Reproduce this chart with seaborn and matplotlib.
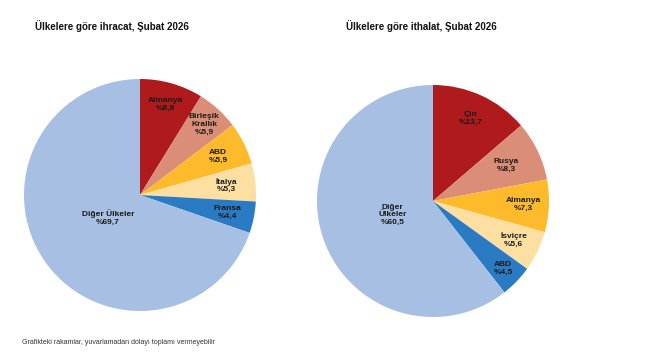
import numpy as np
import matplotlib
matplotlib.use("Agg")
import matplotlib.pyplot as plt
import seaborn as sns

# İhracat verileri
ihracat_ulkeler = ["Almanya", "Birleşik\nKrallık", "ABD", "İtalya", "Fransa", "Diğer Ülkeler"]
ihracat_pay = [8.8, 5.9, 5.9, 5.3, 4.4, 69.7]

# İthalat verileri
ithalat_ulkeler = ["Çin", "Rusya", "Almanya", "İsviçre", "ABD", "Diğer\nÜlkeler"]
ithalat_pay = [13.7, 8.3, 7.3, 5.6, 4.5, 60.5]

renkler = ["#AF1B1D", "#DA8E78", "#FDBB2C", "#FDDFA2", "#2A7BC4", "#A7BFE2"]

# Etiketlerin merkeze uzaklığı (yarıçap oranı)
ihracat_uzaklik = [0.81, 0.82, 0.75, 0.75, 0.77, 0.34]
ithalat_uzaklik = [0.78, 0.70, 0.78, 0.77, 0.84, 0.37]

sns.set_theme(style="white")
plt.rcParams["font.family"] = ["Liberation Sans", "DejaVu Sans"]


def pasta_ciz(ax, etiketler, degerler, uzakliklar):
    wedges, _ = ax.pie(degerler, colors=renkler, startangle=90, counterclock=False,
                       wedgeprops=dict(linewidth=0))
    for w, et, d, u in zip(wedges, etiketler, degerler, uzakliklar):
        aci = np.deg2rad((w.theta1 + w.theta2) / 2)
        metin = f"{et}\n%{d:.1f}".replace(".", ",")
        ax.text(u * np.cos(aci), u * np.sin(aci), metin, ha="center", va="center",
                fontsize=6, fontweight="bold", color="#1a1a1a", linespacing=1.15)
    ax.set_xlim(-1, 1)
    ax.set_ylim(-1, 1)
    ax.set_aspect("equal")


fig = plt.figure(figsize=(6.67, 3.58), dpi=100)
ax1 = fig.add_axes([24 / 667, (358 - 195 - 116) / 358, 232 / 667, 232 / 358])
ax2 = fig.add_axes([317 / 667, (358 - 201 - 116) / 358, 232 / 667, 232 / 358])

pasta_ciz(ax1, ihracat_ulkeler, ihracat_pay, ihracat_uzaklik)
pasta_ciz(ax2, ithalat_ulkeler, ithalat_pay, ithalat_uzaklik)

fig.text(35 / 667, 1 - 26 / 358, "Ülkelere göre ihracat, Şubat 2026", fontsize=7,
         fontweight="bold", ha="left", va="center", color="#111111")
fig.text(346 / 667, 1 - 26 / 358, "Ülkelere göre ithalat, Şubat 2026", fontsize=7,
         fontweight="bold", ha="left", va="center", color="#111111")
fig.text(22 / 667, 1 - 343 / 358, "Grafikteki rakamlar, yuvarlamadan dolayı toplamı vermeyebilir",
         fontsize=5, ha="left", va="center", color="#333333")

fig.savefig("out.png", dpi=100)
